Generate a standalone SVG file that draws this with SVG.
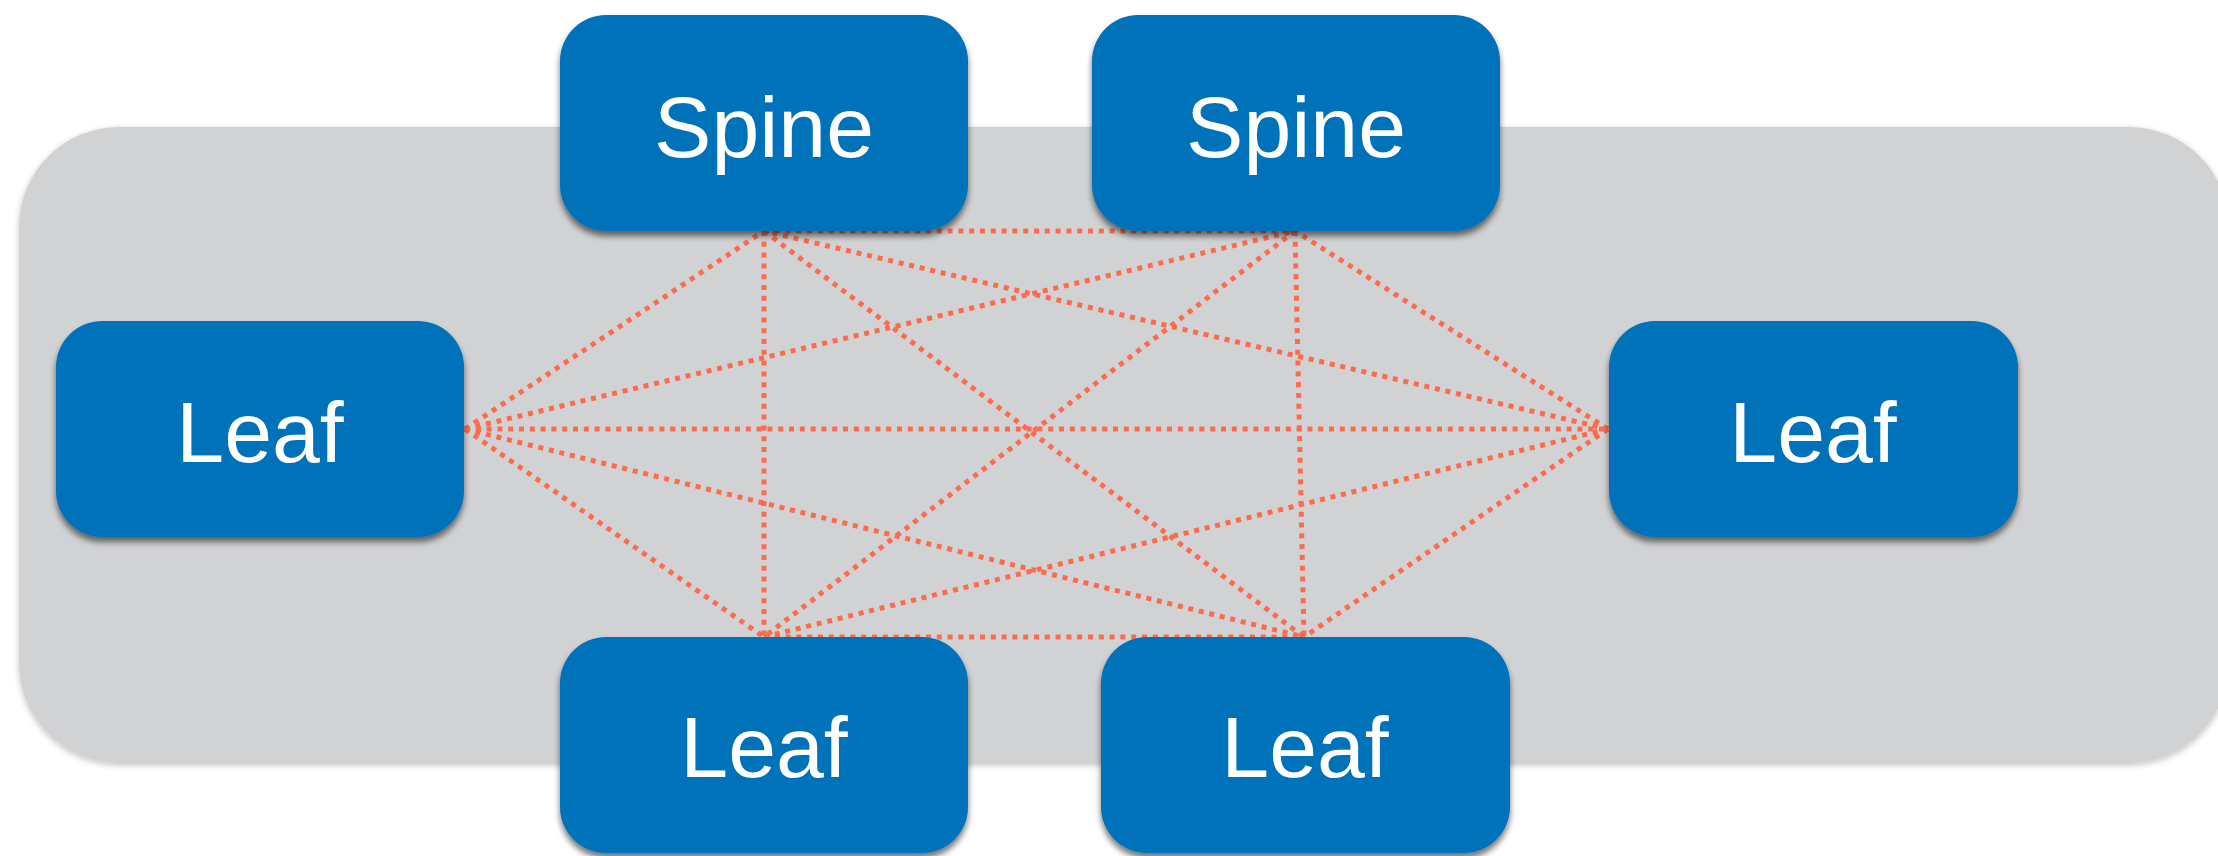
<svg xmlns="http://www.w3.org/2000/svg" width="2218" height="856" viewBox="0 0 2218 856">
  <defs>
    <filter id="boxShadow" x="-10%" y="-10%" width="120%" height="130%">
      <feGaussianBlur in="SourceAlpha" stdDeviation="3"/>
      <feOffset dx="0" dy="5" result="b"/>
      <feComponentTransfer><feFuncA type="linear" slope="0.55"/></feComponentTransfer>
      <feMerge><feMergeNode/><feMergeNode in="SourceGraphic"/></feMerge>
    </filter>
    <filter id="panelShadow" x="-5%" y="-5%" width="110%" height="115%">
      <feGaussianBlur in="SourceAlpha" stdDeviation="3"/>
      <feOffset dx="0" dy="2" result="b"/>
      <feComponentTransfer><feFuncA type="linear" slope="0.25"/></feComponentTransfer>
      <feMerge><feMergeNode/><feMergeNode in="SourceGraphic"/></feMerge>
    </filter>
  </defs>
  <style>
    .box { fill: #0272B9; filter: url(#boxShadow); }
    .label { fill: #FFFFFF; font-family: "Liberation Sans", Arial, Helvetica, sans-serif; font-size: 86px; text-anchor: middle; }
    .link { stroke: #FF6A4D; stroke-width: 5; stroke-dasharray: 5 5.8; fill: none; }
  </style>
  <rect width="2218" height="856" fill="#FFFFFF"/>

  <!-- fabric panel -->
  <rect id="fabric" x="19" y="127" width="2210" height="636" rx="100" ry="100" fill="#D1D2D4" filter="url(#panelShadow)"/>

  <!-- full-mesh links -->
  <g id="connectors" class="link">
    <line x1="764" y1="231" x2="1295" y2="231"/>
    <line x1="764" y1="637" x2="1304" y2="637"/>
    <line x1="465" y1="429" x2="1608" y2="429"/>
    <line x1="764" y1="231" x2="764" y2="637"/>
    <line x1="1295" y1="231" x2="1304" y2="637"/>
    <line x1="465" y1="429" x2="764" y2="231"/>
    <line x1="465" y1="429" x2="1295" y2="231"/>
    <line x1="465" y1="429" x2="764" y2="637"/>
    <line x1="465" y1="429" x2="1304" y2="637"/>
    <line x1="1608" y1="429" x2="764" y2="231"/>
    <line x1="1608" y1="429" x2="1295" y2="231"/>
    <line x1="1608" y1="429" x2="764" y2="637"/>
    <line x1="1608" y1="429" x2="1304" y2="637"/>
    <line x1="764" y1="231" x2="1304" y2="637"/>
    <line x1="1295" y1="231" x2="764" y2="637"/>
  </g>

  <g id="spine-1">
    <rect class="box" x="560" y="15" width="408" height="216" rx="46" ry="46"/>
    <text class="label" x="764" y="157">Spine</text>
  </g>
  <g id="spine-2">
    <rect class="box" x="1092" y="15" width="408" height="216" rx="46" ry="46"/>
    <text class="label" x="1296" y="157">Spine</text>
  </g>
  <g id="leaf-left">
    <rect class="box" x="56" y="321" width="408" height="216" rx="46" ry="46"/>
    <text class="label" x="260" y="462">Leaf</text>
  </g>
  <g id="leaf-right">
    <rect class="box" x="1609" y="321" width="409" height="216" rx="46" ry="46"/>
    <text class="label" x="1813" y="462">Leaf</text>
  </g>
  <g id="leaf-bottom-1">
    <rect class="box" x="560" y="637" width="408" height="216" rx="46" ry="46"/>
    <text class="label" x="764" y="777">Leaf</text>
  </g>
  <g id="leaf-bottom-2">
    <rect class="box" x="1101" y="637" width="409" height="216" rx="46" ry="46"/>
    <text class="label" x="1305" y="777">Leaf</text>
  </g>
</svg>
